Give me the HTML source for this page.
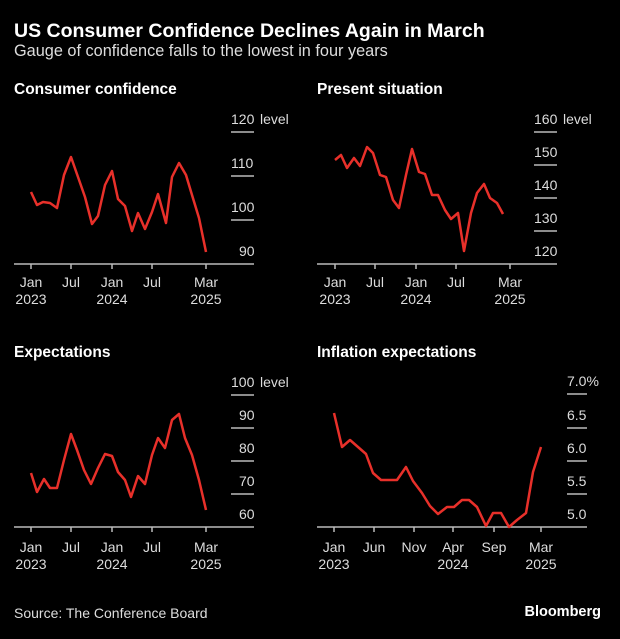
<!DOCTYPE html><html><head><style>
body{margin:0;background:#000;width:620px;height:634px;overflow:hidden;font-family:"Liberation Sans",sans-serif;color:#fff}
</style></head><body>
<svg width="620" height="634" xmlns="http://www.w3.org/2000/svg" font-family="Liberation Sans, sans-serif">
<rect width="620" height="634" fill="#000"/>
<text x="14" y="37" font-size="19.5" font-weight="bold" fill="#fff">US Consumer Confidence Declines Again in March</text>
<text x="14" y="56" font-size="16.3" fill="#ddd">Gauge of confidence falls to the lowest in four years</text>
<g font-size="15.5" font-weight="bold" fill="#fff">
<text x="14" y="94">Consumer confidence</text><text x="317" y="94">Present situation</text>
<text x="14" y="357">Expectations</text><text x="317" y="357">Inflation expectations</text></g>
<g stroke="#bbb" stroke-width="1.5">
<line x1="14" y1="264" x2="254" y2="264"/><line x1="231" y1="132" x2="254" y2="132"/><line x1="231" y1="176" x2="254" y2="176"/><line x1="231" y1="220" x2="254" y2="220"/>
<line x1="317" y1="264" x2="557" y2="264"/><line x1="534" y1="132" x2="557" y2="132"/><line x1="534" y1="165" x2="557" y2="165"/><line x1="534" y1="198" x2="557" y2="198"/><line x1="534" y1="231" x2="557" y2="231"/>
<line x1="14" y1="527" x2="254" y2="527"/><line x1="231" y1="395" x2="254" y2="395"/><line x1="231" y1="428" x2="254" y2="428"/><line x1="231" y1="461" x2="254" y2="461"/><line x1="231" y1="494" x2="254" y2="494"/>
<line x1="317" y1="527" x2="587" y2="527"/><line x1="567" y1="394" x2="587" y2="394"/><line x1="567" y1="428" x2="587" y2="428"/><line x1="567" y1="461" x2="587" y2="461"/><line x1="567" y1="494" x2="587" y2="494"/>
<path d="M31 264v5M71 264v5M112 264v5M152 264v5M206 264v5M335 264v5M375 264v5M416 264v5M456 264v5M510 264v5M31 527v5M71 527v5M112 527v5M152 527v5M206 527v5M334 527v5M374 527v5M414 527v5M453 527v5M494 527v5M541 527v5"/>
</g>
<g font-size="14" fill="#ddd">
<text x="231" y="124">120</text><text x="260" y="124">level</text><text x="231" y="168">110</text><text x="231" y="212">100</text><text x="239" y="256">90</text>
<text x="534" y="124">160</text><text x="563" y="124">level</text><text x="534" y="157">150</text><text x="534" y="190">140</text><text x="534" y="223">130</text><text x="534" y="256">120</text>
<text x="231" y="387">100</text><text x="260" y="387">level</text><text x="239" y="420">90</text><text x="239" y="453">80</text><text x="239" y="486">70</text><text x="239" y="519">60</text>
<text x="567" y="386">7.0%</text><text x="567" y="420">6.5</text><text x="567" y="453">6.0</text><text x="567" y="486">5.5</text><text x="567" y="519">5.0</text>
</g>
<g font-size="14" fill="#ddd" text-anchor="middle">
<text x="31" y="287">Jan</text><text x="31" y="304">2023</text><text x="71" y="287">Jul</text><text x="112" y="287">Jan</text><text x="112" y="304">2024</text><text x="152" y="287">Jul</text><text x="206" y="287">Mar</text><text x="206" y="304">2025</text>
<text x="335" y="287">Jan</text><text x="335" y="304">2023</text><text x="375" y="287">Jul</text><text x="416" y="287">Jan</text><text x="416" y="304">2024</text><text x="456" y="287">Jul</text><text x="510" y="287">Mar</text><text x="510" y="304">2025</text>
<text x="31" y="552">Jan</text><text x="31" y="569">2023</text><text x="71" y="552">Jul</text><text x="112" y="552">Jan</text><text x="112" y="569">2024</text><text x="152" y="552">Jul</text><text x="206" y="552">Mar</text><text x="206" y="569">2025</text>
<text x="334" y="552">Jan</text><text x="334" y="569">2023</text><text x="374" y="552">Jun</text><text x="414" y="552">Nov</text><text x="453" y="552">Apr</text><text x="453" y="569">2024</text><text x="494" y="552">Sep</text><text x="541" y="552">Mar</text><text x="541" y="569">2025</text>
</g>
<g fill="none" stroke="#e8302a" stroke-width="2.5" stroke-linejoin="round">
<polyline points="31,192 37,205 43,202 50,203 57,208 64,175 71,157 78,177 85,197 92,224 98,216 105,185 112,171 118,199 125,206 132,231 138,213 145,229 152,212 158,194 166,223 172,177 179,163 186,175 192,195 199,218 206,252"/>
<polyline points="335,160 341,155 347,168 354,158 360,166 367,147 373,153 380,175 386,177 393,200 399,208 406,175 412,149 419,172 425,174 432,195 438,195 445,210 451,219 458,213 464,251 471,213 477,193 484,184 490,198 497,203 503,214"/>
<polyline points="31,473 37,492 44,479 50,488 57,488 64,460 71,434 77,450 84,470 91,484 98,468 105,454 112,456 118,472 125,480 131,497 138,476 145,484 152,455 158,438 165,448 172,420 179,414 185,438 192,455 199,480 206,510"/>
<polyline points="334,413 342,447 350,440 358,447 366,454 373,473 381,480 389,480 397,480 406,467 413,481 422,493 430,506 438,514 447,507 454,507 462,500 469,500 477,507 486,526 493,513 501,513 509,527 517,520 526,513 533,472 541,447"/>
</g>
<text x="14" y="618" font-size="14" fill="#ddd">Source: The Conference Board</text>
<text x="601" y="616" font-size="14.5" font-weight="bold" fill="#fff" text-anchor="end">Bloomberg</text>
</svg>
</body></html>
